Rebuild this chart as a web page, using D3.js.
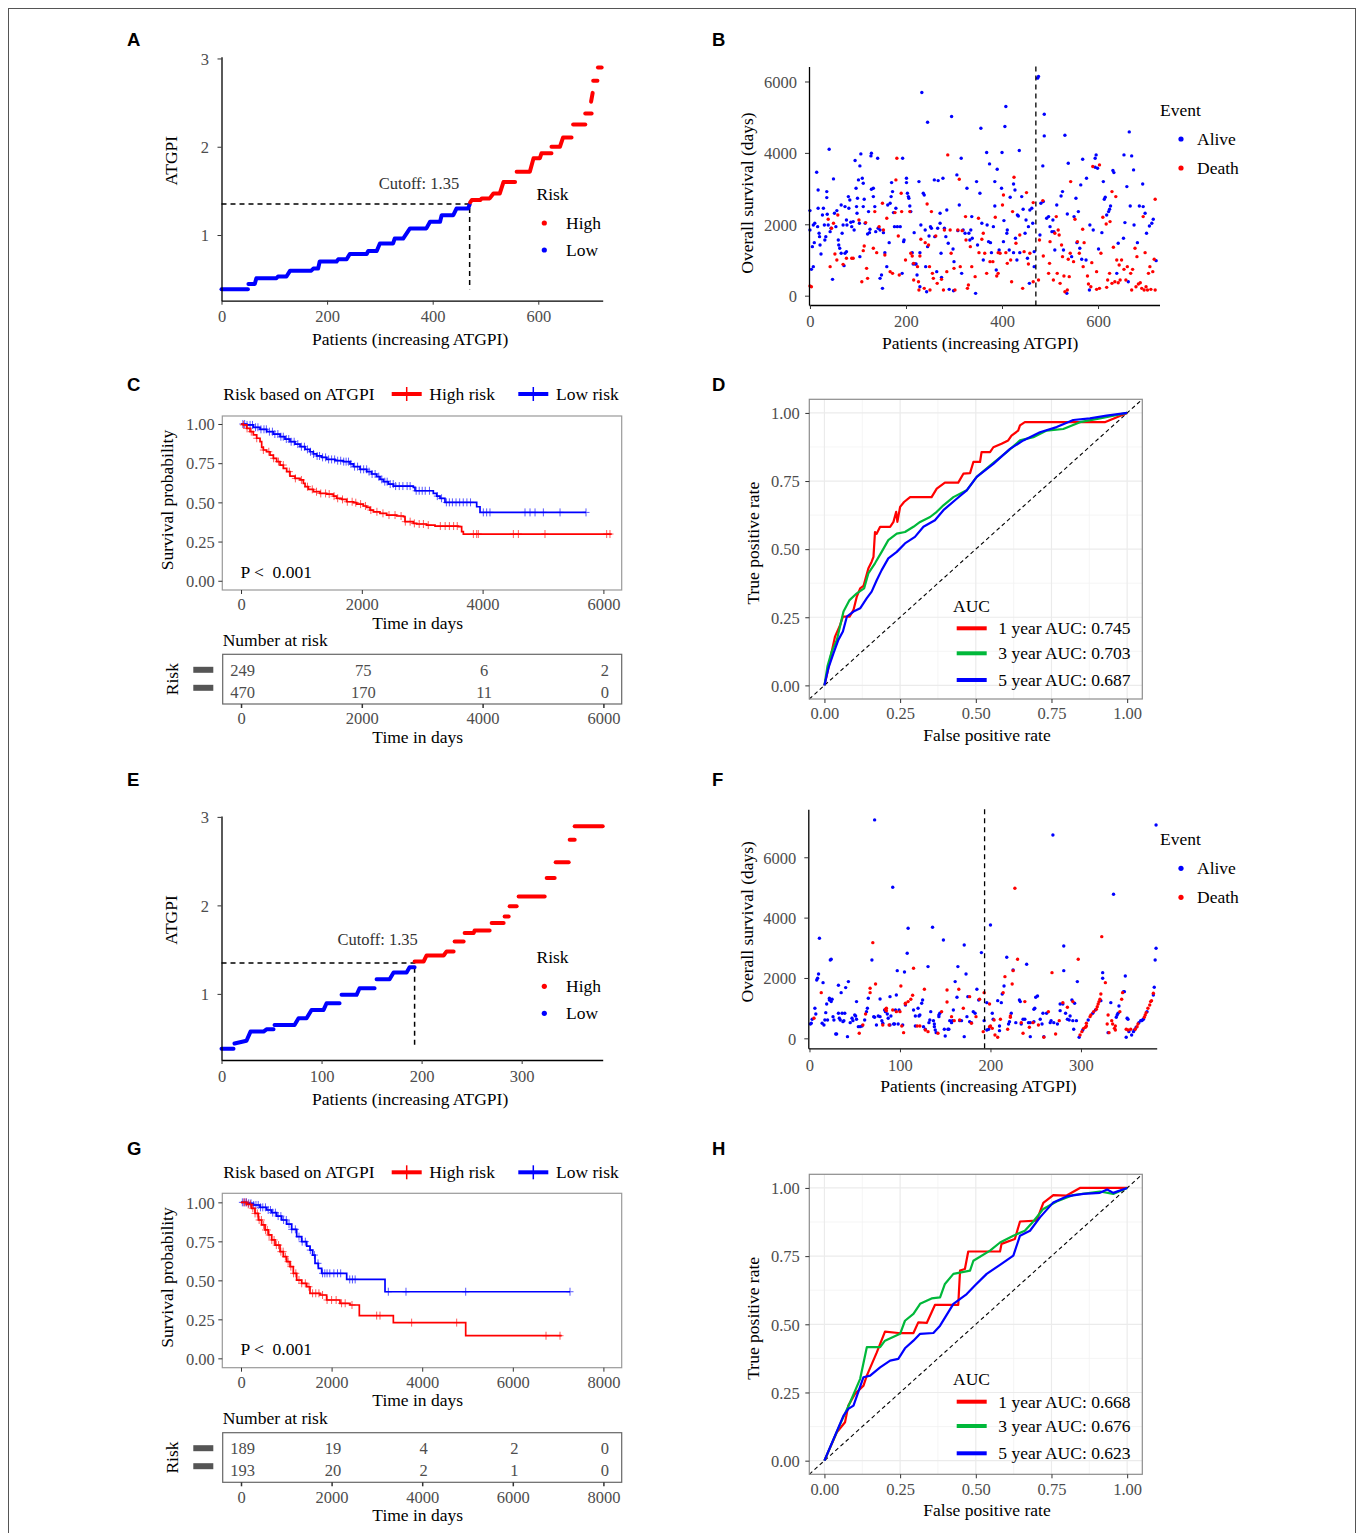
<!DOCTYPE html>
<html>
<head>
<meta charset="utf-8">
<script src="https://cdn.jsdelivr.net/npm/d3@7"></script>
<style>
  body { margin: 0; background: #fff; }
  text { white-space: pre; }
</style>
</head>
<body>
<script>
// ---------------- data ----------------

// A / E : risk score (ATGPI) of patients sorted by score, [patient index, score]
var riskLowA = [[0,0.385],[50,0.385],[51,0.445],[63,0.445],[66,0.51],[104,0.51],[107,0.53],[123,0.53],[130,0.596],[170,0.596],[174,0.62],[183,0.62],[186,0.70],[218,0.70],[221,0.725],[237,0.725],[243,0.785],[275,0.785],[278,0.82],[294,0.82],[300,0.905],[325,0.905],[328,0.96],[344,0.96],[357,1.075],[388,1.075],[395,1.15],[414,1.15],[417,1.225],[439,1.225],[445,1.30],[467,1.30],[470,1.345]];
var riskHighA = [[471,1.37],[474,1.396],[490,1.396],[493,1.415],[508,1.415],[515,1.47],[527,1.47],[534,1.60],[556,1.60],[559,1.717],[584,1.717],[591,1.87],[603,1.87],[606,1.925],[625,1.925],[625,2.0],[641,2.0],[647,2.105],[663,2.105],[666,2.253],[689,2.253],[689,2.377],[701,2.377],[700,2.51],[703,2.61],[704,2.747],[712,2.747],[713,2.898],[720,2.898]];
var riskLowE = [[0,0.381],[12,0.381],[13,0.44],[25,0.47],[29,0.574],[42,0.574],[45,0.60],[52,0.60],[53,0.649],[73,0.649],[77,0.725],[85,0.725],[90,0.819],[102,0.819],[105,0.894],[118,0.894],[120,0.989],[135,0.989],[138,1.064],[153,1.064],[155,1.166],[168,1.166],[172,1.242],[185,1.242],[188,1.302],[193,1.302]];
var riskHighE = [[193,1.366],[202,1.366],[205,1.434],[222,1.434],[225,1.48],[232,1.48],[233,1.592],[242,1.592],[243,1.687],[252,1.687],[253,1.717],[268,1.717],[270,1.80],[282,1.80],[283,1.875],[287,1.875],[288,1.989],[295,1.989],[297,2.10],[323,2.10],[325,2.31],[333,2.31],[334,2.487],[347,2.487],[348,2.743],[353,2.743],[353,2.894],[381,2.894]];
var cutoffScore = 1.35;
var cutoffIdxA = 470, cutoffIdxE = 193;

// B / F : overall survival (days) per patient, [patient index, days]
var aliveB = [[0,2383],[0,1841],[3,738],[7,813],[5,1374],[9,1486],[7,1981],[10,2028],[14,3458],[17,2962],[17,2448],[16,1934],[19,1747],[20,1654],[23,1168],[21,1420],
[26,2261],[28,2448],[30,1981],[31,1560],[33,1654],[35,2915],[35,2747],[36,2280],[38,1981],[40,4100],[42,1794],[44,1888],[47,458],[49,3271],[51,2308],[54,1934],[56,2383],
[60,1420],[59,1560],[62,1327],[65,2542],[65,1187],[67,1747],[69,1981],[71,841],[73,1187],[73,2495],[76,2121],[77,1981],[76,1234],[80,2775],[81,2448],[83,2682],[85,2056],[87,1934],[90,2075],[92,1841],
[94,3785],[96,3009],[97,2495],[98,2308],[99,2729],[101,3243],[104,3635],[103,2028],[104,1093],[106,3972],[109,3290],[111,3150],[111,2495],[113,2700],[115,2028],[120,1729],[122,2355],[124,1766],[125,1860],[127,3916],[128,3990],[128,2981],
[132,2775],[132,3009],[135,2495],[137,1794],[141,3850],[142,1888],[146,1841],[146,486],[149,579],[153,1766],[151,206],[156,1206],[160,813],[162,2542],
[165,1486],[167,2588],[169,2775],[170,3168],[172,2915],[174,2327],[176,1934],[179,2448],[182,1934],[188,1934],[192,626],[193,3850],[195,1514],[196,1560],
[201,3290],[201,3168],[203,2869],[205,2775],[206,2729],[208,2514],[210,2355],[213,1206],[215,888],[217,1766],[219,888],[221,888],[223,579],[227,3196],[229,1206],[231,1981],[229,252],
[233,5691],[236,2869],[238,2822],[240,1841],[241,813],[243,112],[245,4860],[245,1374],[248,1673],[251,1934],[253,1888],[259,3243],[260,1654],[264,673],[266,1888],
[267,3224],[271,2308],[271,2028],[273,1187],[274,514],[277,3290],[280,1888],[283,1654],[285,2402],[290,178],[288,1467],[295,5019],[298,1308],[300,953],[299,140],
[306,3383],[308,1822],[311,2542],[315,3850],[316,626],[319,1841],[323,1747],[327,3009],[331,1747],[333,1560],[335,1841],[337,2215],[338,1607],[345,65],[347,3196],[349,1420],[354,2869],[356,4691],[358,2028],[361,1000],
[368,4009],[369,1981],[372,1514],[374,3691],[376,1486],[378,1206],[382,1934],[385,2514],[385,3196],[388,720],[390,3542],[394,1280],
[399,3009],[400,4009],[403,1514],[404,2103],[406,4738],[408,5299],[410,1747],[411,1841],[415,1280],[417,2757],[424,1206],[424,3130],[427,2962],[428,1607],[431,1000],
[432,2261],[434,2233],[436,4066],[437,1206],[441,2775],[444,2420],[448,1747],[450,2121],[453,1047],[455,1934],[457,346],[458,2402],[462,2448],[464,2028],[467,1234],[467,813],
[474,6093],[476,6140],[479,1701],[481,2588],[486,2635],[488,5084],[488,4476],[485,3635],[493,2168],[497,2215],[500,1934],[504,1794],[506,2121],[508,1794],[510,1280],[514,2542],
[523,2794],[526,2915],[528,1280],[531,4495],[535,65],[536,2290],[538,3710],[545,1093],[550,2215],[554,2729],[556,1486],
[559,2355],[562,1327],[564,3103],[566,1019],[568,3822],[575,1000],[576,3290],[582,159],[583,1981],[590,1841],[594,3598],[594,3850],[596,3944],[599,3570],
[601,1308],[608,1766],[611,3196],[613,2700],[615,2757],[618,2261],[622,2355],[624,2420],[626,2514],[631,3505],[633,3448],[639,626],[642,1467],
[653,1607],[654,3944],[656,2047],[660,3056],[663,392],[665,4588],[667,2514],[670,3916],[674,3523],[675,1981],[682,1486],[686,2514],[693,3130],[694,2495],[698,2308],[701,1747],[707,1953],[712,2028],[715,2140],[721,981]];
var deathB = [[0,270],[3,250],[38,2140],[42,813],[45,1888],[49,2028],[52,1168],[56,1000],[58,2261],[69,878],[76,1047],[87,1047],[90,1047],[102,2121],[108,392],[111,1262],[113,1392],[116,2047],[118,766],[120,486],[132,1327],[135,2355],[139,1206],[144,1934],[151,2588],[153,1841],[156,1140],[160,2168],[167,673],[172,626],[177,2327],[179,3243],[181,3850],[184,1673],[186,579],[190,2869],[191,2355],[199,1000],[208,2355],[210,1187],[213,1112],[216,906],[216,439],[224,813],[226,392],[227,159],[229,1112],[231,1579],[238,206],[240,1486],[244,2570],[247,1420],[249,813],[250,159],[253,2355],[255,626],[257,486],[262,1673],[265,346],[274,458],[278,159],[280,1841],[285,673],[287,3944],[292,1841],[294,1187],[300,766],[302,159],[308,1841],[311,3262],[313,813],[317,1822],[325,1560],[324,2215],[328,206],[330,299],[334,1374],[337,813],[344,533],[351,2168],[352,1206],[358,1579],[361,1747],
[364,1187],[368,626],[375,953],[381,953],[386,2196],[389,551],[392,626],[392,1206],[396,1187],[401,2542],[403,2822],[408,1206],[411,906],[418,1000],[420,392],[422,2355],[425,3318],[429,1467],[437,1701],[443,206],[446,1234],[451,2888],[455,888],[458,1187],[465,392],[465,2607],
[476,439],[478,1560],[485,2663],[486,1112],[497,626],[499,906],[500,1514],[507,439],[510,1747],[513,2215],[515,626],[517,1841],[519,1701],[521,346],[524,1420],[526,1093],[529,551],[531,112],[536,159],[538,1019],[540,533],[542,1187],[543,3196],[549,953],[552,2140],
[557,1514],[561,1187],[568,1860],[569,813],[571,1486],[578,551],[580,327],[585,252],[587,925],[589,3617],[597,673],[597,178],[603,3663],[603,206],[606,1187],[610,2196],[617,2009],[618,234],[620,439],[624,626],[625,2075],[629,346],[629,2915],[632,1355],[635,392],[637,2775],[639,1000],[642,364],[644,860],
[646,439],[649,1000],[654,738],[658,439],[661,813],[668,626],[670,159],[672,738],[677,1327],[679,252],[681,1093],[684,327],[688,364],[691,206],[694,2215],[696,159],[698,1206],[700,252],[703,159],[705,626],[708,813],[710,178],[714,673],[717,1019],[719,2700],[719,159]];
var aliveF = [[1,475],[2,497],[3,630],[7,807],[6,995],[8,1934],[9,1989],[10,2133],[11,3315],[14,497],[15,1845],[16,442],[17,608],[18,851],[19,1138],[20,608],[22,1326],[22,1271],[23,2597],[24,2619],[24,1216],[25,1293],[26,718],[27,608],[29,144],[30,144],[32,1757],[32,829],[33,663],[34,608],[35,1514],[36,829],[37,553],[38,586],[39,829],[40,1680],[42,55],[43,1879],[45,519],[47,663],[48,586],[50,774],[51,740],[52,1216],[52,630],[54,387],[56,387],[58,409],[61,608],[63,884],[64,995],[65,1326],[69,2597],[71,718],[72,696],[72,7238],[74,442],[76,740],[78,718],[78,1304],[80,586],[81,497],[83,939],[84,884],[86,807],[87,663],[89,442],[89,1381],[90,740],[92,5006],[93,475],[94,475],[95,939],[96,1437],[97,2243],[98,475],[99,939],[103,442],[105,2199],[106,1105],[108,2818],[109,3647],[115,939],[117,409],[117,740],[120,995],[121,740],[122,774],[124,1160],[125,1271],[126,387],[128,298],[131,2376],[132,519],[133,608],[134,884],[136,3680],[137,586],[138,387],[138,475],[139,276],[140,188],[143,718],[143,774],[144,829],[148,3260],[149,298],[150,77],[153,298],[154,298],[155,586],[157,519],[158,586],[159,939],[161,1879],[163,1359],[164,2376],[166,586],[168,586],[171,55],[171,3094],[173,2133],[174,718],[175,1381],[177,553],[179,519],[181,884],[183,829],[185,1624],[187,1271],[190,2840],[193,586],
[196,1182],[196,276],[198,298],[200,3757],[202,829],[203,630],[208,1249],[210,409],[210,254],[212,1182],[213,1470],[215,1735],[218,2685],[220,475],[221,553],[223,829],[225,2265],[228,519],[232,1271],[233,1216],[234,475],[236,630],[238,630],[240,2453],[242,519],[244,55],[244,519],[248,553],[248,961],[249,995],[250,1359],[252,1403],[255,630],[257,475],[258,829],[259,55],[262,829],[266,519],[267,586],[269,6740],[270,519],[274,475],[277,917],[277,1138],[280,1138],[281,3061],[281,2243],[283,829],[285,630],[287,608],[288,740],[290,1271],[291,586],[293,1160],[295,586],[296,1879],[292,298],
[298,33],[302,276],[308,608],[313,829],[316,939],[322,1249],[324,2177],[324,1989],[330,188],[333,1182],[336,4774],[339,696],[340,774],[341,829],[342,1072],[347,1547],[348,1547],[349,2066],[350,33],[351,663],[352,630],[353,221],[356,110],[358,221],[359,276],[361,365],[364,519],[366,586],[367,586],[368,608],[369,630],[373,884],[380,1437],[381,1691],[382,2597],[383,2984],[383,7072]];
var deathF = [[5,663],[13,1514],[55,166],[59,442],[62,807],[67,1514],[67,1658],[70,3171],[73,1801],[81,442],[84,961],[85,995],[85,917],[88,442],[92,939],[96,884],[100,884],[101,1735],[102,409],[104,188],[106,1160],[106,1138],[109,1216],[112,1293],[114,1425],[115,2321],[119,409],[122,409],[127,1624],[128,276],[131,221],[142,166],[146,884],[152,1602],[152,1205],[157,718],[160,586],[165,1624],[166,608],[170,995],[177,1381],[179,497],[184,718],[188,1293],[193,1514],[192,221],
[199,1138],[199,387],[200,409],[202,331],[204,608],[205,110],[208,33],[211,630],[214,1514],[216,2044],[219,298],[222,696],[222,740],[224,1801],[225,2243],[227,4973],[230,2619],[234,519],[236,166],[238,1216],[243,365],[247,519],[253,442],[259,33],[264,884],[268,2177],[272,144],[276,586],[280,1182],[285,1028],[291,1216],[297,2619],
[299,110],[301,221],[303,331],[305,365],[306,409],[306,497],[310,718],[311,774],[314,884],[317,961],[318,1050],[319,1138],[320,1216],[321,1293],[322,1470],[323,3370],[327,1845],[329,475],[330,774],[331,188],[334,586],[335,475],[337,331],[338,409],[338,276],[343,884],[345,1293],[346,1514],[350,298],[352,276],[355,298],[360,298],[362,387],[363,475],[370,696],[371,774],[372,851],[374,995],[376,1105],[377,1216],[378,1249],[380,1492]];

// C / G : Kaplan-Meier steps (time in days, survival), censor times
var kmC_highT = [0,39,94,149,204,259,315,342,370,425,480,535,590,646,701,756,811,894,977,1032,1060,1115,1198,1308,1418,1529,1584,1667,1749,1860,1915,2025,2081,2136,2191,2301,2412,2577,2688,2715,2853,2908,3074,3212,3598,3653,3681,6137];
var kmC_highS = [1,0.994,0.972,0.951,0.930,0.909,0.887,0.851,0.834,0.823,0.802,0.781,0.760,0.738,0.717,0.696,0.668,0.653,0.643,0.621,0.600,0.583,0.568,0.557,0.553,0.540,0.526,0.519,0.504,0.498,0.489,0.477,0.468,0.451,0.440,0.430,0.419,0.413,0.409,0.377,0.366,0.362,0.355,0.349,0.345,0.313,0.298,0.298];
var kmC_lowT = [0,94,204,315,425,535,646,728,811,894,977,1060,1142,1198,1253,1336,1418,1556,1694,1805,1860,1970,2081,2163,2246,2301,2357,2439,2522,2853,2881,3184,3240,3295,3377,3847,3902,3957,5712];
var kmC_lowS = [1,0.994,0.979,0.966,0.951,0.936,0.919,0.904,0.887,0.872,0.855,0.838,0.823,0.809,0.796,0.787,0.774,0.766,0.760,0.745,0.728,0.711,0.696,0.681,0.664,0.647,0.632,0.617,0.604,0.596,0.574,0.557,0.540,0.526,0.500,0.500,0.472,0.436,0.436];
var censC_high = [40,100,170,260,370,460,540,620,700,800,900,1000,1100,1180,1250,1320,1400,1460,1540,1600,1680,1760,1840,1900,1980,2060,2150,2250,2350,2450,2550,2650,2720,2800,2870,2950,3020,3100,3300,3380,3450,3520,3580,3847,3902,3929,4509,4592,5033,6054,6109];
var censC_low = [30,60,100,150,190,240,280,330,380,420,470,520,560,610,660,700,750,790,830,880,940,1000,1050,1100,1150,1200,1260,1300,1350,1400,1450,1500,1550,1600,1650,1700,1740,1780,1820,1880,1930,1980,2030,2080,2120,2170,2220,2280,2330,2380,2420,2470,2520,2560,2620,2680,2750,2800,2900,2950,3000,3050,3120,3250,3320,3400,3450,3500,3560,3620,3680,3740,3800,4012,4067,4122,4702,4785,4868,5006,5282,5712];
var kmG_highT = [0,125,235,309,383,456,530,603,677,751,861,935,1008,1082,1155,1229,1339,1450,1523,1744,1891,2185,2406,2612,3363,4960,7079];
var kmG_highS = [1,0.987,0.962,0.929,0.887,0.855,0.823,0.791,0.759,0.726,0.684,0.652,0.620,0.588,0.545,0.502,0.481,0.459,0.417,0.406,0.374,0.353,0.342,0.274,0.229,0.145,0.145];
var kmG_lowT = [0,125,272,419,567,677,787,898,1008,1118,1229,1339,1450,1523,1582,1634,1707,1781,2333,3179,7263];
var kmG_lowS = [1,0.994,0.983,0.968,0.951,0.934,0.912,0.887,0.861,0.827,0.780,0.748,0.720,0.694,0.662,0.609,0.577,0.545,0.506,0.427,0.427];
var censG_high = [60,110,160,210,260,310,360,400,450,500,540,580,620,680,730,780,830,880,930,980,1040,1100,1160,1210,1280,1340,1420,1500,1580,1650,1720,1800,1900,2000,2100,2220,2300,2450,2995,3068,3767,4761,6733,7042];
var censG_low = [30,80,120,170,220,280,330,380,430,480,540,600,650,700,760,820,880,940,1000,1060,1120,1200,1280,1350,1420,1530,1620,1700,1800,1850,1900,1960,2050,2130,2200,2400,2460,2520,3252,3642,4960,7263];

// number at risk tables
var atRiskTimesC = [0,2000,4000,6000];
var atRiskHighC = [249,75,6,2];
var atRiskLowC = [470,170,11,0];
var atRiskTimesG = [0,2000,4000,6000,8000];
var atRiskHighG = [189,19,4,2,0];
var atRiskLowG = [193,20,2,1,0];

// D / H : ROC curves, [false positive rate, true positive rate]
var rocD1 = [[0,0],[0.013,0.063],[0.024,0.124],[0.035,0.179],[0.052,0.222],[0.061,0.252],[0.083,0.252],[0.096,0.277],[0.107,0.326],[0.118,0.356],[0.129,0.365],[0.145,0.429],[0.156,0.454],[0.162,0.472],[0.167,0.563],[0.172,0.556],[0.184,0.582],[0.217,0.582],[0.228,0.60],[0.237,0.637],[0.241,0.60],[0.25,0.655],[0.263,0.673],[0.283,0.691],[0.354,0.691],[0.371,0.722],[0.398,0.744],[0.442,0.744],[0.459,0.777],[0.481,0.779],[0.492,0.82],[0.514,0.82],[0.519,0.856],[0.547,0.856],[0.558,0.874],[0.585,0.887],[0.607,0.899],[0.618,0.917],[0.640,0.935],[0.646,0.954],[0.662,0.966],[0.783,0.966],[0.926,0.966],[1,1]];
var rocD3 = [[0,0],[0.01,0.07],[0.024,0.124],[0.041,0.167],[0.063,0.271],[0.083,0.313],[0.107,0.338],[0.131,0.356],[0.145,0.411],[0.167,0.448],[0.189,0.49],[0.211,0.533],[0.239,0.557],[0.266,0.563],[0.294,0.582],[0.316,0.60],[0.349,0.618],[0.371,0.637],[0.393,0.661],[0.426,0.691],[0.470,0.716],[0.503,0.765],[0.547,0.807],[0.602,0.856],[0.646,0.899],[0.690,0.911],[0.734,0.935],[0.789,0.941],[0.844,0.966],[0.91,0.98],[1,1]];
var rocD5 = [[0,0],[0.013,0.063],[0.03,0.118],[0.046,0.167],[0.061,0.198],[0.074,0.252],[0.096,0.271],[0.118,0.283],[0.14,0.32],[0.156,0.344],[0.173,0.387],[0.189,0.423],[0.211,0.466],[0.239,0.49],[0.266,0.521],[0.299,0.545],[0.327,0.582],[0.365,0.606],[0.393,0.643],[0.437,0.685],[0.47,0.716],[0.503,0.765],[0.558,0.813],[0.613,0.868],[0.657,0.899],[0.712,0.929],[0.767,0.948],[0.822,0.974],[0.877,0.98],[0.932,0.99],[1,1]];
var rocH1 = [[0,0],[0.041,0.104],[0.068,0.141],[0.079,0.202],[0.101,0.245],[0.129,0.275],[0.14,0.312],[0.173,0.397],[0.2,0.473],[0.244,0.468],[0.294,0.468],[0.31,0.507],[0.338,0.505],[0.365,0.571],[0.442,0.571],[0.448,0.697],[0.464,0.703],[0.475,0.767],[0.536,0.767],[0.58,0.767],[0.585,0.795],[0.629,0.813],[0.646,0.877],[0.701,0.88],[0.723,0.945],[0.756,0.974],[0.8,0.972],[0.844,1.0],[0.91,1.0],[1,1]];
var rocH3 = [[0,0],[0.052,0.134],[0.085,0.214],[0.118,0.30],[0.14,0.416],[0.184,0.416],[0.2,0.44],[0.25,0.465],[0.266,0.513],[0.294,0.538],[0.316,0.575],[0.354,0.595],[0.382,0.599],[0.398,0.648],[0.426,0.685],[0.481,0.697],[0.492,0.733],[0.547,0.77],[0.58,0.80],[0.624,0.825],[0.662,0.843],[0.69,0.877],[0.723,0.923],[0.767,0.95],[0.822,0.974],[0.91,0.987],[0.954,0.978],[1,1]];
var rocH5 = [[0,0],[0.03,0.079],[0.063,0.165],[0.079,0.19],[0.096,0.202],[0.129,0.306],[0.151,0.312],[0.184,0.342],[0.217,0.367],[0.244,0.373],[0.266,0.412],[0.294,0.44],[0.316,0.465],[0.36,0.468],[0.382,0.495],[0.426,0.575],[0.47,0.611],[0.497,0.642],[0.536,0.685],[0.58,0.718],[0.624,0.752],[0.646,0.825],[0.679,0.843],[0.712,0.892],[0.756,0.947],[0.8,0.969],[0.855,0.978],[0.91,0.982],[0.934,0.994],[0.954,0.982],[1,1]];
var aucLabelsD = ["1 year AUC: 0.745", "3 year AUC: 0.703", "5 year AUC: 0.687"];
var aucLabelsH = ["1 year AUC: 0.668", "3 year AUC: 0.676", "5 year AUC: 0.623"];

// ---------------- drawing ----------------
var serif = '"Liberation Serif", "Times New Roman", serif';
var TICK = 16.5, TITLE = 17.5;
var GREY = "#4d4d4d";
var RED = "#ff0000", BLUE = "#0000ff", GREEN = "#00b83a";

var svg = d3.select("body").append("svg")
  .attr("width", 1357)
  .attr("height", 1533);

svg.append("rect").attr("width", 1357).attr("height", 1533).attr("fill", "#fff");
svg.append("rect")
  .attr("x", 8.5).attr("y", 8.5)
  .attr("width", 1347).attr("height", 1530)
  .attr("fill", "none").attr("stroke", "#555").attr("stroke-width", 1);

function txt(t, x, y, opts) {
  opts = opts || {};
  var el = svg.append("text")
    .attr("x", x).attr("y", y)
    .attr("dy", "0.35em")
    .attr("font-family", opts.family || serif)
    .attr("font-size", opts.size || TITLE)
    .attr("fill", opts.fill || "#000")
    .attr("text-anchor", opts.anchor || "start")
    .text(t);
  if (opts.bold) el.attr("font-weight", "bold");
  if (opts.rotate) el.attr("transform", "rotate(-90," + x + "," + y + ")");
  return el;
}

function styleAxis(a, side, off, keepDomain) {
  if (keepDomain) {
    a.select(".domain").attr("stroke", "#000").attr("stroke-width", 1.3);
  } else {
    a.select(".domain").remove();
  }
  a.selectAll(".tick line").attr("stroke", "#333");
  var t = a.selectAll("text")
    .attr("font-family", serif)
    .attr("font-size", TICK)
    .attr("fill", GREY)
    .attr("dy", "0.35em");
  if (side === "bottom") t.attr("y", off);
  else t.attr("x", -off);
}

// panel letters
[["A",127,40],["B",712,40],["C",127,385],["D",712,385],["E",127,780],["F",712,780],["G",127,1149],["H",712,1149]]
  .forEach(function(p) {
    txt(p[0], p[1], p[2], { family: '"Liberation Sans", Arial, sans-serif', bold: true, size: 18.5 });
  });

// ---------- risk score curve panels ----------
function riskPanel(o) {
  var x = d3.scaleLinear().domain(o.xd).range([o.l, o.r]);
  var y = d3.scaleLinear().domain(o.yd).range([o.b, o.t]);

  // cutoff dashed guide
  svg.append("path")
    .attr("d", "M" + o.l + "," + y(cutoffScore) + "H" + x(o.cutIdx) + "V" + y(o.low[0][1]))
    .attr("fill", "none").attr("stroke", "#000")
    .attr("stroke-width", 1.5).attr("stroke-dasharray", "5,4");

  function curve(knots, color) {
    var segs = [[knots[0]]];
    for (var i = 1; i < knots.length; i++) {
      var dp = Math.max(knots[i][0] - knots[i - 1][0], 0.5);
      var dv = knots[i][1] - knots[i - 1][1];
      if (dv / dp > 0.035) segs.push([knots[i]]);
      else segs[segs.length - 1].push(knots[i]);
    }
    var line = d3.line().x(function(d) { return x(d[0]); }).y(function(d) { return y(d[1]); });
    segs.forEach(function(s) {
      if (s.length === 1) {
        svg.append("circle").attr("cx", x(s[0][0])).attr("cy", y(s[0][1])).attr("r", 2).attr("fill", color);
      } else {
        svg.append("path").attr("d", line(s))
          .attr("fill", "none").attr("stroke", color)
          .attr("stroke-width", 4).attr("stroke-linecap", "round").attr("stroke-linejoin", "round");
      }
    });
  }
  curve(o.low, BLUE);
  curve(o.high, RED);

  var ax = svg.append("g").attr("transform", "translate(0," + o.b + ")")
    .call(d3.axisBottom(x).tickValues(o.xticks).tickSize(4).tickSizeOuter(0));
  styleAxis(ax, "bottom", 16, true);
  var ay = svg.append("g").attr("transform", "translate(" + o.l + ",0)")
    .call(d3.axisLeft(y).tickValues([1, 2, 3]).tickSize(4).tickSizeOuter(0).tickFormat(d3.format("d")));
  styleAxis(ay, "left", 12.5, true);

  txt("Patients (increasing ATGPI)", (o.l + o.r) / 2 - 2, o.b + 38.5, { anchor: "middle" });
  txt("ATGPI", o.l - 51, (o.t + o.b) / 2 - 18, { anchor: "middle", rotate: true });
  txt("Cutoff: 1.35", o.cutText[0], o.cutText[1], { anchor: "middle", fill: "#333", size: TICK });

  txt("Risk", 536.5, o.legY, {});
  svg.append("circle").attr("cx", 544.3).attr("cy", o.legY + 29).attr("r", 2.6).attr("fill", RED);
  txt("High", 566, o.legY + 29, {});
  svg.append("circle").attr("cx", 544.3).attr("cy", o.legY + 56).attr("r", 2.6).attr("fill", BLUE);
  txt("Low", 566, o.legY + 56, {});
}

riskPanel({ l: 221.5, r: 602.7, t: 56.7, b: 300.7, xd: [0, 722], yd: [0.256, 3.02],
  low: riskLowA, high: riskHighA, cutIdx: cutoffIdxA, xticks: [0, 200, 400, 600],
  cutText: [419, 183], legY: 194 });
riskPanel({ l: 221.5, r: 602.7, t: 816, b: 1060, xd: [0, 381], yd: [0.253, 3.01],
  low: riskLowE, high: riskHighE, cutIdx: cutoffIdxE, xticks: [0, 100, 200, 300],
  cutText: [377.7, 939.3], legY: 957.3 });

// ---------- survival status scatter panels ----------
function scatterPanel(o) {
  var x = d3.scaleLinear().domain(o.xd).range([o.l, o.r]);
  var y = d3.scaleLinear().domain(o.yd).range([o.b, o.t]);

  svg.selectAll(null).data(o.alive).enter().append("circle")
    .attr("cx", function(d) { return x(d[0]); })
    .attr("cy", function(d) { return y(d[1]); })
    .attr("r", 1.7).attr("fill", BLUE);
  svg.selectAll(null).data(o.death).enter().append("circle")
    .attr("cx", function(d) { return x(d[0]); })
    .attr("cy", function(d) { return y(d[1]); })
    .attr("r", 1.7).attr("fill", RED);

  svg.append("line")
    .attr("x1", x(o.cutIdx + 0.5)).attr("x2", x(o.cutIdx + 0.5))
    .attr("y1", o.t).attr("y2", o.b)
    .attr("stroke", "#000").attr("stroke-width", 1.3).attr("stroke-dasharray", "5,4");

  var ax = svg.append("g").attr("transform", "translate(0," + o.b + ")")
    .call(d3.axisBottom(x).tickValues(o.xticks).tickSize(4).tickSizeOuter(0));
  styleAxis(ax, "bottom", 16.5, true);
  var ay = svg.append("g").attr("transform", "translate(" + o.l + ",0)")
    .call(d3.axisLeft(y).tickValues(o.yticks).tickSize(4).tickSizeOuter(0).tickFormat(d3.format("d")));
  styleAxis(ay, "left", 12, true);

  txt("Patients (increasing ATGPI)", (o.l + o.r) / 2 - 4, o.b + 38, { anchor: "middle" });
  txt("Overall survival (days)", 746.7, o.yTitle, { anchor: "middle", rotate: true });

  txt("Event", 1160, o.legY, {});
  svg.append("circle").attr("cx", 1181).attr("cy", o.legY + 29).attr("r", 2.6).attr("fill", BLUE);
  txt("Alive", 1197, o.legY + 29, {});
  svg.append("circle").attr("cx", 1181).attr("cy", o.legY + 58).attr("r", 2.6).attr("fill", RED);
  txt("Death", 1197, o.legY + 58, {});
}

scatterPanel({ l: 809, r: 1159.5, t: 66.5, b: 305, xd: [-2, 728], yd: [-261, 6420],
  alive: aliveB, death: deathB, cutIdx: cutoffIdxA, xticks: [0, 200, 400, 600],
  yticks: [0, 2000, 4000, 6000], yTitle: 193, legY: 110 });
scatterPanel({ l: 808.3, r: 1156.7, t: 809.3, b: 1048.3, xd: [-1.3, 383.7], yd: [-331, 7590],
  alive: aliveF, death: deathF, cutIdx: cutoffIdxE, xticks: [0, 100, 200, 300],
  yticks: [0, 2000, 4000, 6000], yTitle: 921.7, legY: 839.3 });

// ---------- Kaplan-Meier panels ----------
function kmPanel(o) {
  var x = d3.scaleLinear().domain(o.xd).range([o.l, o.r]);
  var y = d3.scaleLinear().domain(o.yd).range([o.b, o.t]);

  // legend row
  txt("Risk based on ATGPI", 223.3, o.legY, {});
  [[RED, 391.7, "High risk", 429.3], [BLUE, 518.3, "Low risk", 556]].forEach(function(k) {
    svg.append("line").attr("x1", k[1]).attr("x2", k[1] + 30).attr("y1", o.legY).attr("y2", o.legY)
      .attr("stroke", k[0]).attr("stroke-width", 4);
    svg.append("line").attr("x1", k[1] + 15).attr("x2", k[1] + 15).attr("y1", o.legY - 7).attr("y2", o.legY + 7)
      .attr("stroke", k[0]).attr("stroke-width", 1.5);
    txt(k[2], k[3], o.legY, {});
  });

  svg.append("rect").attr("x", o.l).attr("y", o.t).attr("width", o.r - o.l).attr("height", o.b - o.t)
    .attr("fill", "none").attr("stroke", "#999").attr("stroke-width", 1.2);

  var line = d3.line().curve(d3.curveStepAfter)
    .x(function(d) { return x(d[0]); }).y(function(d) { return y(d[1]); });

  o.groups.forEach(function(gp) {
    var pts = gp.t.map(function(t, i) { return [t, gp.s[i]]; });
    svg.append("path").attr("d", line(pts))
      .attr("fill", "none").attr("stroke", gp.color).attr("stroke-width", 1.7);
    var cens = svg.append("g").attr("stroke", gp.color).attr("stroke-width", 1).attr("opacity", 0.65);
    gp.cens.forEach(function(ct) {
      var s = gp.s[0];
      for (var i = 0; i < gp.t.length; i++) if (gp.t[i] <= ct) s = gp.s[i];
      var cx = x(ct), cy = y(s);
      cens.append("path").attr("d", "M" + (cx - 3.5) + "," + cy + "H" + (cx + 3.5) + "M" + cx + "," + (cy - 4) + "V" + (cy + 4));
    });
  });

  var ax = svg.append("g").attr("transform", "translate(0," + o.b + ")")
    .call(d3.axisBottom(x).tickValues(o.xticks).tickSize(4).tickSizeOuter(0).tickFormat(d3.format("d")));
  styleAxis(ax, "bottom", 14.5, false);
  var ay = svg.append("g").attr("transform", "translate(" + o.l + ",0)")
    .call(d3.axisLeft(y).tickValues([0, 0.25, 0.5, 0.75, 1]).tickSize(4).tickSizeOuter(0).tickFormat(d3.format(".2f")));
  styleAxis(ay, "left", 7.5, false);

  txt("P <  0.001", 240.5, o.pY, {}).attr("xml:space", "preserve");
  txt("Time in days", 417.7, o.b + 32.5, { anchor: "middle" });
  txt("Survival probability", 166.7, (o.t + o.b) / 2 - 3, { anchor: "middle", rotate: true });

  // number at risk table
  txt("Number at risk", 222.7, o.tblTop - 14.5, {});
  svg.append("rect").attr("x", 222.7).attr("y", o.tblTop).attr("width", 399).attr("height", o.tblBot - o.tblTop)
    .attr("fill", "none").attr("stroke", "#666").attr("stroke-width", 1.2);
  var row1 = o.tblTop + 15.5, row2 = o.tblTop + 37.5;
  o.times.forEach(function(t, i) {
    txt(String(o.nHigh[i]), x(t) + 1.5, row1, { anchor: "middle", fill: GREY, size: TICK });
    txt(String(o.nLow[i]), x(t) + 1.5, row2, { anchor: "middle", fill: GREY, size: TICK });
  });
  [row1, row2 - 4].forEach(function(ry) {
    svg.append("rect").attr("x", 193.3).attr("y", ry - 3).attr("width", 20).attr("height", 6).attr("fill", "#555");
  });
  txt("Risk", 171.7, (o.tblTop + o.tblBot) / 2, { anchor: "middle", rotate: true });
  var at = svg.append("g").attr("transform", "translate(0," + o.tblBot + ")")
    .call(d3.axisBottom(x).tickValues(o.xticks).tickSize(4).tickSizeOuter(0).tickFormat(d3.format("d")));
  styleAxis(at, "bottom", 14.5, false);
  at.selectAll(".tick line").attr("stroke-width", 1.5);
  txt("Time in days", 417.7, o.tblBot + 32.5, { anchor: "middle" });
}

kmPanel({ l: 222.3, r: 621.7, t: 416, b: 590, xd: [-310, 6303], yd: [-0.059, 1.051],
  xticks: [0, 2000, 4000, 6000], legY: 394, pY: 571.7,
  groups: [
    { t: kmC_lowT, s: kmC_lowS, cens: censC_low, color: BLUE },
    { t: kmC_highT, s: kmC_highS, cens: censC_high, color: RED }
  ],
  tblTop: 654.3, tblBot: 704, times: atRiskTimesC, nHigh: atRiskHighC, nLow: atRiskLowC });

kmPanel({ l: 222.3, r: 621.7, t: 1193.3, b: 1367.7, xd: [-413, 8404], yd: [-0.06, 1.058],
  xticks: [0, 2000, 4000, 6000, 8000], legY: 1172.3, pY: 1349.3,
  groups: [
    { t: kmG_lowT, s: kmG_lowS, cens: censG_low, color: BLUE },
    { t: kmG_highT, s: kmG_highS, cens: censG_high, color: RED }
  ],
  tblTop: 1432.7, tblBot: 1482.3, times: atRiskTimesG, nHigh: atRiskHighG, nLow: atRiskLowG });

// ---------- ROC panels ----------
function rocPanel(o) {
  var x = d3.scaleLinear().domain([-0.05, 1.05]).range([o.l, o.r]);
  var y = d3.scaleLinear().domain([-0.05, 1.05]).range([o.b, o.t]);
  var major = [0, 0.25, 0.5, 0.75, 1], minor = [0.125, 0.375, 0.625, 0.875];

  var grid = svg.append("g");
  minor.forEach(function(v) {
    grid.append("line").attr("x1", x(v)).attr("x2", x(v)).attr("y1", o.t).attr("y2", o.b).attr("stroke", "#f3f3f3").attr("stroke-width", 0.8);
    grid.append("line").attr("y1", y(v)).attr("y2", y(v)).attr("x1", o.l).attr("x2", o.r).attr("stroke", "#f3f3f3").attr("stroke-width", 0.8);
  });
  major.forEach(function(v) {
    grid.append("line").attr("x1", x(v)).attr("x2", x(v)).attr("y1", o.t).attr("y2", o.b).attr("stroke", "#ebebeb").attr("stroke-width", 1.2);
    grid.append("line").attr("y1", y(v)).attr("y2", y(v)).attr("x1", o.l).attr("x2", o.r).attr("stroke", "#ebebeb").attr("stroke-width", 1.2);
  });

  svg.append("line").attr("x1", x(-0.05)).attr("y1", y(-0.05)).attr("x2", x(1.05)).attr("y2", y(1.05))
    .attr("stroke", "#000").attr("stroke-width", 1.1).attr("stroke-dasharray", "4,3");

  var line = d3.line().x(function(d) { return x(d[0]); }).y(function(d) { return y(d[1]); });
  var colors = [RED, GREEN, BLUE];
  o.series.forEach(function(s, i) {
    svg.append("path").attr("d", line(s)).attr("fill", "none")
      .attr("stroke", colors[i]).attr("stroke-width", 2.2).attr("stroke-linejoin", "round");
  });

  svg.append("rect").attr("x", o.l).attr("y", o.t).attr("width", o.r - o.l).attr("height", o.b - o.t)
    .attr("fill", "none").attr("stroke", "#8c8c8c").attr("stroke-width", 1.2);

  var ax = svg.append("g").attr("transform", "translate(0," + o.b + ")")
    .call(d3.axisBottom(x).tickValues(major).tickSize(4).tickSizeOuter(0).tickFormat(d3.format(".2f")));
  styleAxis(ax, "bottom", 14.5, false);
  var ay = svg.append("g").attr("transform", "translate(" + o.l + ",0)")
    .call(d3.axisLeft(y).tickValues(major).tickSize(4).tickSizeOuter(0).tickFormat(d3.format(".2f")));
  styleAxis(ay, "left", 9.5, false);

  txt("False positive rate", 987, o.b + 36, { anchor: "middle" });
  txt("True positive rate", 753.3, (o.t + o.b) / 2 - 6, { anchor: "middle", rotate: true });

  txt("AUC", 953, o.legY, {});
  o.labels.forEach(function(lab, i) {
    var ly = o.legY + o.legDy[i];
    svg.append("line").attr("x1", 956.7).attr("x2", 986.7).attr("y1", ly).attr("y2", ly)
      .attr("stroke", colors[i]).attr("stroke-width", 4);
    txt(lab, 998.3, ly, {});
  });
}

rocPanel({ l: 809.3, r: 1142.3, t: 399.3, b: 699, series: [rocD1, rocD3, rocD5],
  labels: aucLabelsD, legY: 606, legDy: [22.3, 47.3, 74] });
rocPanel({ l: 809.3, r: 1142.3, t: 1174.3, b: 1474.3, series: [rocH1, rocH3, rocH5],
  labels: aucLabelsH, legY: 1379.3, legDy: [22.4, 46.7, 74] });
</script>
</body>
</html>
